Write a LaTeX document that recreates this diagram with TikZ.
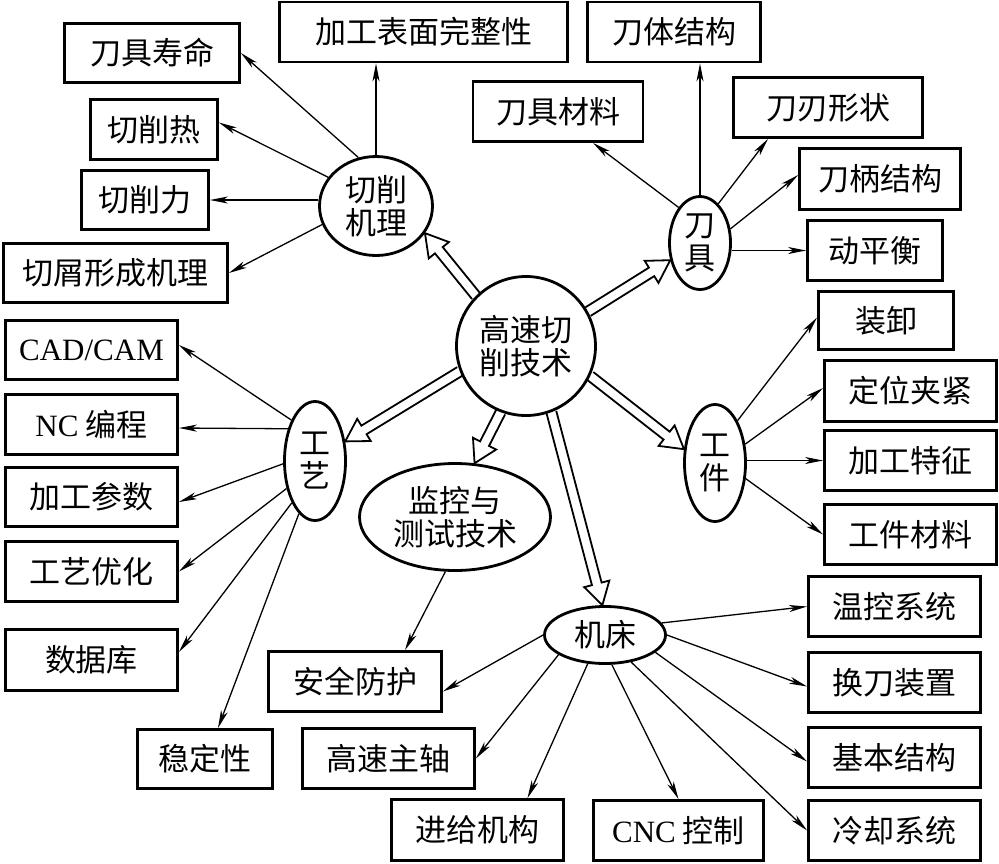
\documentclass[tikz,border=0pt]{standalone}
\usepackage{fontspec}
\setmainfont{Liberation Serif}
\newfontfamily\cjk{Noto Sans CJK SC}
\usetikzlibrary{arrows.meta,calc,shapes.geometric,backgrounds}
\newcommand{\fatarrow}[2]{%
  \coordinate (fa) at (#1);
  \coordinate (fb) at (#2);
  \coordinate (fq) at ($(fb)!22pt!(fa)$);
  \filldraw[fatline] ($(fa)!5pt!90:(fb)$) -- ($(fq)!5pt!90:(fb)$) -- ($(fq)!13pt!90:(fb)$) -- (fb)
    -- ($(fq)!13pt!-90:(fb)$) -- ($(fq)!5pt!-90:(fb)$) -- ($(fa)!5pt!-90:(fb)$);
}
\begin{document}
\begin{tikzpicture}[x=1pt,y=-1pt,
  every node/.style={font=\cjk\fontsize{31}{33}\selectfont, align=center, inner sep=0pt},
  bx/.style={draw, line width=2.8pt, rectangle},
  hub/.style={draw, line width=2.8pt, ellipse},
  thinarr/.style={line width=1.3pt, -{Stealth[length=18pt,width=7pt,inset=5pt]}},
  fatline/.style={draw, fill=white, line width=1.8pt, line join=miter}]

% boxes
\node[bx, minimum width=175pt, minimum height=59pt] (b1) at (152,53) {刀具寿命};
\node[bx, minimum width=288pt, minimum height=60pt] (b2) at (423.5,32) {加工表面完整性};
\node[bx, minimum width=173pt, minimum height=60pt] (b3) at (674,32) {刀体结构};
\node[bx, minimum width=127pt, minimum height=60pt] (b4) at (154,129.5) {切削热};
\node[bx, minimum width=127pt, minimum height=59pt] (b5) at (145,200) {切削力};
\node[bx, minimum width=224pt, minimum height=59pt] (b6) at (115.5,273) {切屑形成机理};
\node[bx, minimum width=170pt, minimum height=60pt] (b7) at (558,111.5) {刀具材料};
\node[bx, minimum width=189pt, minimum height=60pt] (b8) at (828,107.5) {刀刃形状};
\node[bx, minimum width=161pt, minimum height=61pt] (b9) at (880,179) {刀柄结构};
\node[bx, minimum width=135pt, minimum height=60pt] (b10) at (875,250.5) {动平衡};
\node[bx, minimum width=135pt, minimum height=58pt] (b11) at (886,320.5) {装卸};
\node[bx, minimum width=172pt, minimum height=61pt] (b12) at (910.5,391) {定位夹紧};
\node[bx, minimum width=172pt, minimum height=60pt] (b13) at (910.5,460.5) {加工特征};
\node[bx, minimum width=172pt, minimum height=60pt] (b14) at (910.5,534.5) {工件材料};
\node[bx, minimum width=172pt, minimum height=59pt] (b15) at (91.5,350) {\rmfamily CAD/CAM};
\node[bx, minimum width=172pt, minimum height=60pt] (b16) at (91.5,424.5) {{\rmfamily NC} 编程};
\node[bx, minimum width=172pt, minimum height=59pt] (b17) at (91.5,497) {加工参数};
\node[bx, minimum width=172pt, minimum height=60pt] (b18) at (91.5,571.5) {工艺优化};
\node[bx, minimum width=172pt, minimum height=61pt] (b19) at (91.5,660) {数据库};
\node[bx, minimum width=135pt, minimum height=59pt] (b20) at (205,759) {稳定性};
\node[bx, minimum width=173pt, minimum height=60pt] (b21) at (355,681.5) {安全防护};
\node[bx, minimum width=172pt, minimum height=60pt] (b22) at (388.5,758.5) {高速主轴};
\node[bx, minimum width=172pt, minimum height=61pt] (b23) at (477.5,830) {进给机构};
\node[bx, minimum width=170pt, minimum height=60pt] (b24) at (678.5,830.5) {{\rmfamily CNC} 控制};
\node[bx, minimum width=172pt, minimum height=60pt] (b25) at (894.5,606.5) {温控系统};
\node[bx, minimum width=172pt, minimum height=60pt] (b26) at (894.5,682.5) {换刀装置};
\node[bx, minimum width=172pt, minimum height=60pt] (b27) at (894.5,757.5) {基本结构};
\node[bx, minimum width=172pt, minimum height=60pt] (b28) at (894.5,830.5) {冷却系统};

% hubs
\node[draw, line width=2.8pt, circle, minimum size=139pt] (c0) at (526,346) {高速切\\削技术};
\node[hub, minimum width=113pt, minimum height=99pt] (h1) at (376,206) {切削\\机理};
\node[hub, minimum width=61pt, minimum height=93pt] (h2) at (700,243) {刀\\具};
\node[hub, minimum width=61pt, minimum height=117pt] (h3) at (715,463) {工\\件};
\node[hub, minimum width=61pt, minimum height=119pt] (h4) at (315,461) {工\\艺};
\node[hub, minimum width=191pt, minimum height=107pt] (h5) at (455,517) {监控与\\测试技术};
\node[hub, minimum width=121pt, minimum height=57pt] (h6) at (605,635) {机床};

\begin{pgfonlayer}{background}
\path[fill=white, use as bounding box] (0,0) rectangle (999,863);

% fat arrows
\fatarrow{c0.135}{h1.331}
\fatarrow{c0.29}{h2.210}
\fatarrow{c0.-25}{h3.156}
\fatarrow{c0.201}{h4.33}
\fatarrow{c0.249}{h5.70}
\fatarrow{c0.291}{h6.95}

% cutting mechanism
\draw[thinarr] (h1.110) -- (b1.east);
\draw[thinarr] (h1.149) -- ([yshift=7pt]b4.east);
\draw[thinarr] (h1.west |- b5.east) -- (b5.east);
\draw[thinarr] (h1.199) -- (b6.east);
\draw[thinarr] (h1.north) -- (b2.south -| h1.north);

% tool
\draw[thinarr] (h2.121) -- ([xshift=35pt]b7.south);
\draw[thinarr] (h2.north) -- (b3.south -| h2.north);
\draw[thinarr] (h2.65) -- ([xshift=-60pt]b8.south);
\draw[thinarr] (h2.25) -- ([yshift=4pt]b9.west);
\draw[thinarr] (h2.east |- b10.west) -- (b10.west);

% workpiece
\draw[thinarr] (h3.62) -- ([yshift=3pt]b11.west);
\draw[thinarr] (h3.32) -- ([yshift=3pt]b12.west);
\draw[thinarr] (h3.east |- b13.west) -- (b13.west);
\draw[thinarr] (h3.-27) -- (b14.west);

% process
\draw[thinarr] (h4.120) -- ([yshift=5pt]b15.east);
\draw[thinarr] (h4.130) -- ([yshift=-3.5pt]b16.east);
\draw[thinarr] (h4.185) -- ([yshift=-5pt]b17.east);
\draw[thinarr] (h4.224) -- (b18.east);
\draw[thinarr] (h4.241) -- ([yshift=8pt]b19.east);
\draw[thinarr] (h4.253) -- ([xshift=13pt]b20.north);

% monitoring
\draw[thinarr] (h5.260) -- ([xshift=50pt]b21.north);

% machine tool
\draw[thinarr] (h6.west) -- ([yshift=-10pt]b21.east);
\draw[thinarr] (h6.203) -- (b22.east);
\draw[thinarr] (h6.239) -- ([xshift=50pt]b23.north);
\draw[thinarr] (h6.283) -- (b24.north);
\draw[thinarr] (h6.314) -- (b28.west);
\draw[thinarr] (h6.341) -- ([yshift=-4pt]b27.west);
\draw[thinarr] (h6.east) -- ([yshift=-4pt]b26.west);
\draw[thinarr] (h6.12) -- (b25.west);
\end{pgfonlayer}
\end{tikzpicture}
\end{document}
